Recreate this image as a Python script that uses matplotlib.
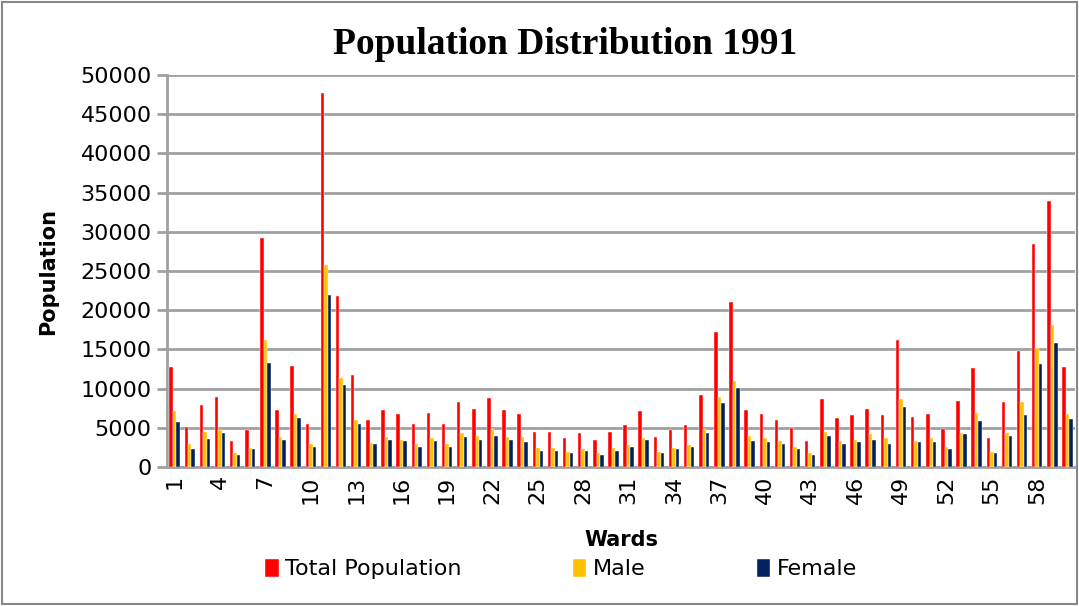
import numpy as np
import matplotlib
matplotlib.use("Agg")
from matplotlib import pyplot as plt
from matplotlib.patches import Rectangle

# ward numbers 1..60
wards = list(range(1, 61))

total = [12750, 5140, 7900, 8925, 3315, 4675, 29240, 7270, 12920, 5480,
         47685, 21845, 11730, 6035, 7270, 6760, 5525, 6930, 5525, 8330,
         7440, 8800, 7270, 6760, 4500, 4500, 3655, 4335, 3485, 4500,
         5355, 7100, 3825, 4675, 5355, 9140, 17210, 20995, 7270, 6760,
         6035, 5015, 3315, 8630, 6250, 6590, 7440, 6590, 16150, 6420,
         6760, 4845, 8460, 12580, 3655, 8290, 14790, 28430, 33915, 12750]

male = [7100, 2930, 4500, 4675, 1740, 2465, 16150, 3825, 6715, 2930,
        25800, 11390, 6035, 3100, 3780, 3485, 2930, 3655, 2930, 4335,
        3995, 4845, 3825, 3825, 2420, 2420, 1910, 2250, 1740, 2420,
        2760, 3655, 1910, 2420, 2760, 4845, 8970, 11010, 3995, 3655,
        3315, 2590, 1740, 4500, 3315, 3485, 4165, 3655, 8630, 3315,
        3655, 2590, 4335, 6930, 1910, 4335, 8290, 15130, 18060, 6760]

female = [5700, 2300, 3600, 4335, 1530, 2300, 13260, 3485, 6205, 2590,
          21890, 10500, 5525, 2930, 3485, 3315, 2590, 3315, 2590, 3825,
          3485, 3995, 3485, 3145, 2080, 2080, 1740, 2080, 1570, 2080,
          2590, 3485, 1740, 2250, 2590, 4335, 8120, 10030, 3315, 3145,
          2930, 2250, 1530, 3995, 2930, 3145, 3485, 2930, 7610, 3145,
          3145, 2250, 4165, 5910, 1740, 3995, 6590, 13130, 15850, 6080]

series_names = ['Total Population', 'Male', 'Female']
colors = ['#FF0000', '#FFC000', '#002060']

fig = plt.figure(figsize=(10.79, 6.06), dpi=100)
ax = fig.add_axes([0.1548, 0.2294, 0.8415, 0.6468])

x = np.arange(len(wards))
w = 0.23
for i, (vals, name, c) in enumerate(zip([total, male, female], series_names, colors)):
    ax.bar(x + (i - 1) * w, vals, width=w, color=c, label=name,
           edgecolor='white', linewidth=0.3, zorder=3)

ax.set_xlim(-0.5, len(wards) - 0.5)
ax.set_ylim(0, 50000)
ax.set_yticks(np.arange(0, 50001, 5000))
ax.set_yticklabels([str(v) for v in range(0, 50001, 5000)], fontsize=16)
ax.set_xticks(x[::3])
ax.set_xticklabels([str(wd) for wd in wards[::3]], rotation=90, fontsize=16)

ax.grid(axis='y', color='#A0A0A0', linewidth=2, zorder=0)
for s in ['top', 'right']:
    ax.spines[s].set_visible(False)
for s in ['left', 'bottom']:
    ax.spines[s].set_color('#A0A0A0')
    ax.spines[s].set_linewidth(2)
ax.tick_params(axis='y', color='#A0A0A0', width=2, length=7, pad=4)
ax.tick_params(axis='x', length=0, pad=6)

ax.set_ylabel('Population', fontsize=15, fontweight='bold', labelpad=16)
ax.set_xlabel('Wards', fontsize=15, fontweight='bold', labelpad=19)

fig.suptitle('Population Distribution 1991', x=0.524, y=0.955,
             fontsize=27, fontweight='bold', family='Liberation Serif')

fig.legend(loc='center', bbox_to_anchor=(0.52, 0.061), ncol=3, frameon=False,
           fontsize=16, handlelength=0.6, handleheight=0.9, handletextpad=0.3,
           columnspacing=5)

fig.patches.append(Rectangle((0.002, 0.004), 0.996, 0.992, transform=fig.transFigure,
                             fill=False, edgecolor='#888888', linewidth=1.5))

fig.savefig('out.png', dpi=100)
